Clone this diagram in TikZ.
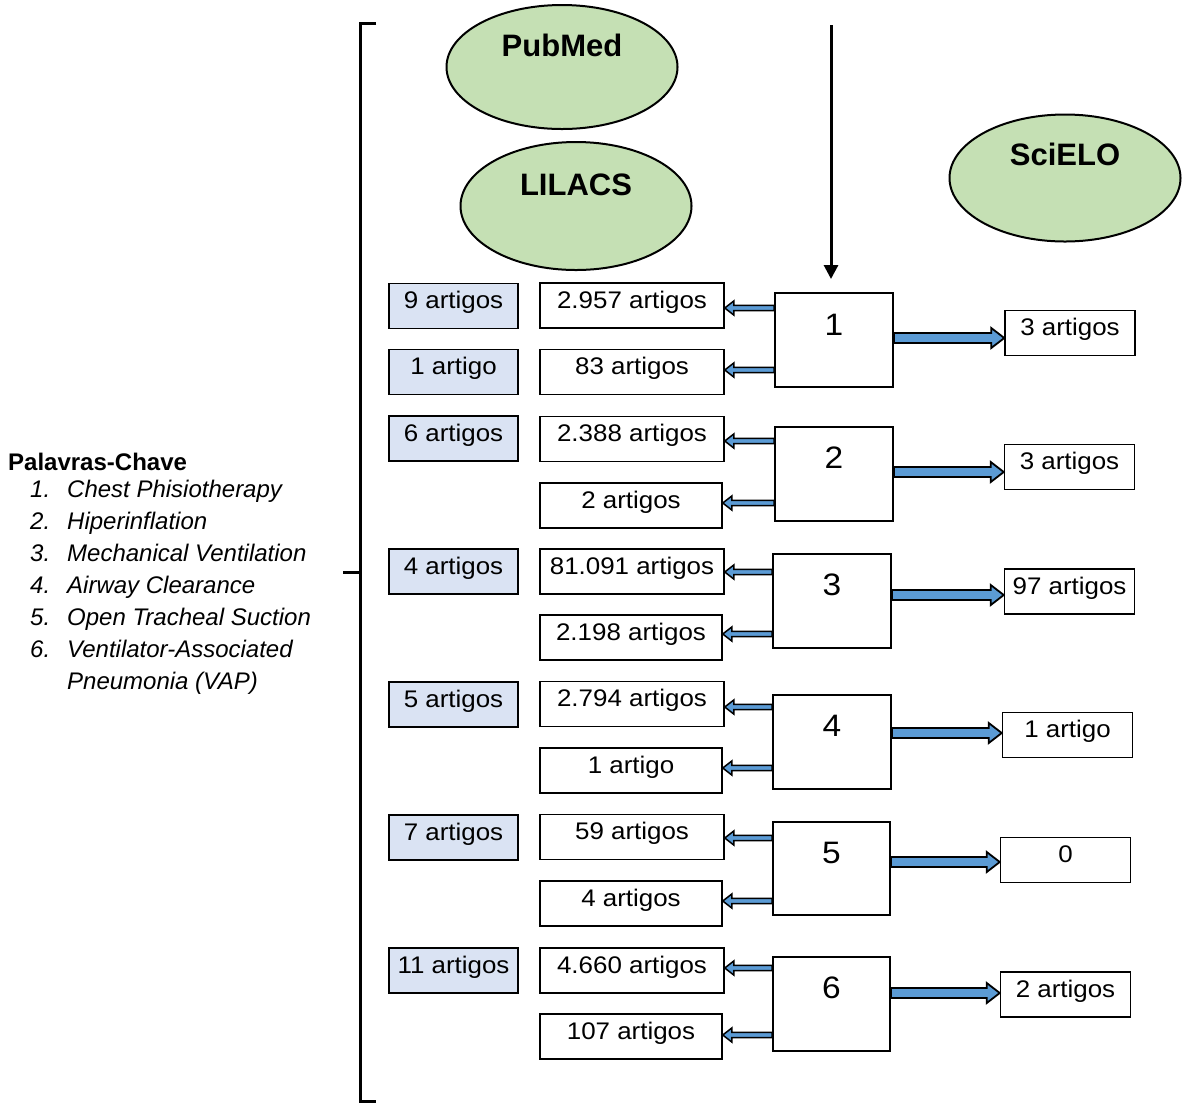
\documentclass[tikz,border=0pt]{standalone}
\usepackage{fontspec}
\setmainfont{Liberation Sans}
\newfontfamily\boxfont[FakeStretch=1.08]{Liberation Sans}
\usetikzlibrary{shapes.geometric,arrows.meta,calc}
\definecolor{dbgreen}{HTML}{C5E0B4}
\definecolor{lbox}{HTML}{DAE3F3}
\definecolor{arrblue}{HTML}{5B9BD5}
% right block arrow: from #1.east to #2.west, y of #2 shifted by #3
\newcommand{\rarr}[3]{%
  \draw[barr] let \p1=(#1.east), \p2=($(#2.west)+(0,#3)$) in
  (\x1,{\y2+5pt}) -- ({\x2-13pt},{\y2+5pt}) -- ({\x2-13pt},{\y2+10pt}) -- (\x2,\y2)
  -- ({\x2-13pt},{\y2-10pt}) -- ({\x2-13pt},{\y2-5pt}) -- (\x1,{\y2-5pt}) -- cycle;}
% left block arrow: from #1.west to #2.east, y of #2 shifted by #3
\newcommand{\larr}[3]{%
  \draw[barrs] let \p1=(#1.west), \p2=($(#2.east)+(0,#3)$) in
  (\x1,{\y2+2.6pt}) -- ({\x2+9pt},{\y2+2.6pt}) -- ({\x2+9pt},{\y2+7pt}) -- (\x2,\y2)
  -- ({\x2+9pt},{\y2-7pt}) -- ({\x2+9pt},{\y2-2.6pt}) -- (\x1,{\y2-2.6pt}) -- cycle;}
\begin{document}
\begin{tikzpicture}[x=1pt,y=-1pt,
  db/.style={ellipse, draw, line width=2pt, fill=dbgreen, minimum width=231pt,
    minimum height=124pt, inner sep=0pt, font=\fontsize{31}{36}\selectfont\bfseries,
    text height=22pt, text depth=44pt},
  cnt/.style={draw, line width=1.5pt, inner sep=0pt, text height=25pt, text depth=20pt,
    font=\boxfont\fontsize{24}{28}\selectfont},
  lcnt/.style={cnt, fill=lbox, minimum width=129pt},
  mcnt/.style={cnt, fill=white, minimum width=184pt},
  mcntb/.style={cnt, fill=white, minimum width=182pt},
  rcnt/.style={cnt, fill=white, minimum width=130pt},
  numbox/.style={draw, line width=2pt, fill=white, minimum width=118pt, inner sep=0pt,
    text height=42pt, text depth=52pt, font=\boxfont\fontsize{31}{36}\selectfont},
  barr/.style={draw=black, line width=1.8pt, fill=arrblue, line join=miter},
  barrs/.style={draw=black, line width=1.5pt, fill=arrblue, line join=miter},
  bracket/.style={line width=3pt, line join=miter},
  flow/.style={line width=3pt, -{Triangle[width=14pt,length=14pt]}},
]
\useasboundingbox (0,0) rectangle (1182,1104);

% databases
\node[db] (pub) at (562,67) {PubMed};
\node[db, minimum height=128pt] (lil) at (576,206) {LILACS};
\node[db, minimum height=127pt, text depth=48pt] (sci) at (1065,178) {SciELO};

% keywords
\node[anchor=north west, inner sep=0pt, font=\fontsize{24}{32}\selectfont] (kw) at (8,448.2) {%
\begin{tabular}{@{}p{22pt}@{}p{37pt}@{}l@{}}
\multicolumn{3}{@{}l@{}}{\bfseries Palavras-Chave}\\[-5pt]
 & \itshape 1. & \itshape Chest Phisiotherapy\\
 & \itshape 2. & \itshape Hiperinflation\\
 & \itshape 3. & \itshape Mechanical Ventilation\\
 & \itshape 4. & \itshape Airway Clearance\\
 & \itshape 5. & \itshape Open Tracheal Suction\\
 & \itshape 6. & \itshape Ventilator-Associated\\
 & & \itshape Pneumonia (VAP)
\end{tabular}};

% bracket
\coordinate (brtop) at (376,23);
\coordinate (brbot) at (376,1101);
\coordinate (brmid) at (343,572);
\draw[bracket] (brtop) -- (360,23) -- (360,1101) -- (brbot);
\draw[bracket] (brmid) -- (360,572);

% left (LILACS-like) boxes
\node[lcnt] (l1) at (453.5,306) {9 artigos};
\node[lcnt] (l2) at (453.5,372) {1 artigo};
\node[lcnt] (l3) at (453.5,438.5) {6 artigos};
\node[lcnt] (l4) at (453.5,571.5) {4 artigos};
\node[lcnt] (l5) at (453.5,704.5) {5 artigos};
\node[lcnt] (l6) at (453.5,837.5) {7 artigos};
\node[lcnt] (l7) at (453.5,970.5) {11 artigos};

% middle boxes
\node[mcnt]  (m1a) at (632,305.5) {2.957 artigos};
\node[mcnt]  (m1b) at (632,372) {83 artigos};
\node[mcnt]  (m2a) at (632,439) {2.388 artigos};
\node[mcntb] (m2b) at (631,505.5) {2 artigos};
\node[mcnt]  (m3a) at (632,571.5) {81.091 artigos};
\node[mcntb] (m3b) at (631,637.5) {2.198 artigos};
\node[mcnt]  (m4a) at (632,704) {2.794 artigos};
\node[mcntb] (m4b) at (631,770.5) {1 artigo};
\node[mcnt]  (m5a) at (632,837) {59 artigos};
\node[mcntb] (m5b) at (631,903.5) {4 artigos};
\node[mcnt]  (m6a) at (632,970.5) {4.660 artigos};
\node[mcntb] (m6b) at (631,1036.5) {107 artigos};

% number boxes
\node[numbox, minimum width=118pt] (n1) at (834,340) {1};
\node[numbox, minimum width=118pt] (n2) at (834,473.5) {2};
\node[numbox, minimum width=118pt] (n3) at (832,600.5) {3};
\node[numbox, minimum width=118pt] (n4) at (832,741.5) {4};
\node[numbox, minimum width=117pt, text depth=51pt] (n5) at (831.5,868) {5};
\node[numbox, minimum width=117pt] (n6) at (831.5,1003.5) {6};

% right boxes
\node[rcnt] (r1) at (1070,333) {3 artigos};
\node[rcnt] (r2) at (1069.5,467) {3 artigos};
\node[rcnt] (r3) at (1069.5,591.5) {97 artigos};
\node[rcnt] (r4) at (1067.5,735) {1 artigo};
\node[rcnt] (r5) at (1065.5,860) {0};
\node[rcnt] (r6) at (1065.5,994.5) {2 artigos};

% vertical flow arrow
\coordinate (vtop) at (831,25);
\coordinate (vend) at (831,279);
\draw[flow] (vtop) -- (vend);

% block arrows
\rarr{n1}{r1}{5}
\rarr{n2}{r2}{5}
\rarr{n3}{r3}{3.5}
\rarr{n4}{r4}{-2}
\rarr{n5}{r5}{2}
\rarr{n6}{r6}{-1.5}

\larr{n1}{m1a}{2.5}
\larr{n1}{m1b}{-2}
\larr{n2}{m2a}{2}
\larr{n2}{m2b}{-2.5}
\larr{n3}{m3a}{0.5}
\larr{n3}{m3b}{-3.5}
\larr{n4}{m4a}{3}
\larr{n4}{m4b}{-2.5}
\larr{n5}{m5a}{1}
\larr{n5}{m5b}{-2.5}
\larr{n6}{m6a}{-2.5}
\larr{n6}{m6b}{-1.5}
\end{tikzpicture}
\end{document}
